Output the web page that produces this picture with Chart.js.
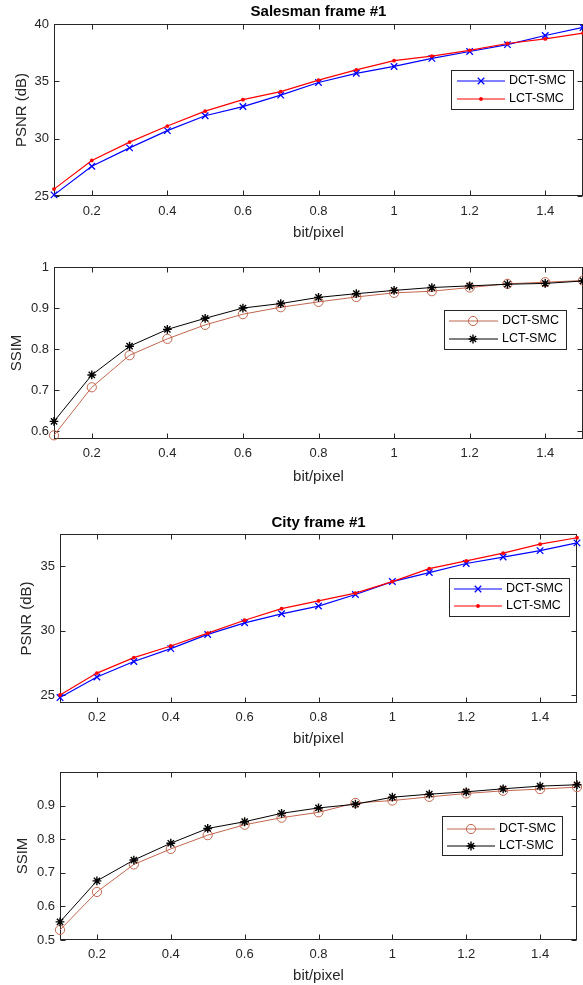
<!DOCTYPE html>
<html><head><meta charset="utf-8">
<script src="https://cdn.jsdelivr.net/npm/chart.js@4.4.0/dist/chart.umd.min.js"></script>
<style>
html,body{margin:0;padding:0;background:#fff;}
body{width:583px;height:985px;position:relative;overflow:hidden;}
canvas{position:absolute;left:0;display:block;}
</style></head><body>
<canvas id="c1" width="583" height="250" style="top:0px"></canvas>
<canvas id="c2" width="583" height="240" style="top:250px"></canvas>
<canvas id="c3" width="583" height="260" style="top:490px"></canvas>
<canvas id="c4" width="583" height="235" style="top:750px"></canvas>
<script>
// ---------- data ----------
const bitRate = [0.1,0.2,0.3,0.4,0.5,0.6,0.7,0.8,0.9,1.0,1.1,1.2,1.3,1.4,1.5];
const xTickValues = [0.2,0.4,0.6,0.8,1,1.2,1.4];
const seriesNames = ['DCT-SMC','LCT-SMC'];

const salesmanPsnrDct = [25.1,27.6,29.2,30.7,32.0,32.8,33.8,34.9,35.7,36.3,37.0,37.6,38.2,39.0,39.7];
const salesmanPsnrLct = [25.6,28.1,29.7,31.1,32.4,33.4,34.1,35.1,36.0,36.8,37.2,37.7,38.3,38.7,39.2];
const salesmanSsimDct = [0.590,0.707,0.785,0.825,0.859,0.885,0.902,0.915,0.927,0.937,0.941,0.950,0.959,0.963,0.967];
const salesmanSsimLct = [0.624,0.737,0.807,0.848,0.875,0.900,0.911,0.926,0.935,0.943,0.950,0.954,0.958,0.960,0.966];
const cityPsnrDct = [24.8,26.4,27.6,28.6,29.7,30.6,31.3,31.9,32.8,33.8,34.5,35.2,35.7,36.2,36.8];
const cityPsnrLct = [25.0,26.7,27.9,28.8,29.8,30.8,31.7,32.3,32.9,33.8,34.8,35.4,36.0,36.7,37.2];
const citySsimDct = [0.530,0.643,0.725,0.771,0.812,0.843,0.864,0.880,0.908,0.915,0.926,0.936,0.944,0.949,0.955];
const citySsimLct = [0.554,0.676,0.738,0.788,0.832,0.852,0.877,0.893,0.904,0.925,0.934,0.941,0.950,0.958,0.962];

const salesmanPsnrTicks = [25,30,35,40];
const salesmanSsimTicks = [0.6,0.7,0.8,0.9,1];
const cityPsnrTicks = [25,30,35];
const citySsimTicks = [0.5,0.6,0.7,0.8,0.9];

// ---------- styles ----------
const FONT = "'Liberation Sans', Arial, Helvetica, sans-serif";
const AX = '#262626';
const psnrStyles = [
  {borderColor:'#0000FF', borderWidth:1.2, pointStyle:'crossRot', pointRadius:4.6, pointBorderWidth:1.3, pointBorderColor:'#0000FF', pointBackgroundColor:'#0000FF'},
  {borderColor:'#FF0000', borderWidth:1.2, pointStyle:'circle', pointRadius:1.9, pointBorderWidth:0, pointBorderColor:'#FF0000', pointBackgroundColor:'#FF0000'}
];
const ssimStyles = [
  {borderColor:'#C0664E', borderWidth:1, pointStyle:'circle', pointRadius:4.6, pointBorderWidth:1, pointBorderColor:'#C0664E', pointBackgroundColor:'rgba(0,0,0,0)'},
  {borderColor:'#000000', borderWidth:1, pointStyle:'star', pointRadius:4.4, pointBorderWidth:1.4, pointBorderColor:'#000000', pointBackgroundColor:'#000000'}
];

// ---------- plugins ----------
const matlabAxes = {
  id:'matlabAxes',
  beforeDatasetsDraw(chart){
    const {ctx, chartArea:a, scales:{x,y}} = chart;
    const L=Math.round(a.left)+0.5, R=Math.round(a.right)-0.5, T=Math.round(a.top)+0.5, B=Math.round(a.bottom)-0.5;
    ctx.save();
    ctx.strokeStyle=AX; ctx.lineWidth=1;
    ctx.strokeRect(L,T,R-L,B-T);
    ctx.beginPath();
    const tl=5;
    x.ticks.forEach(t=>{
      const p=Math.round(x.getPixelForValue(t.value))+0.5;
      ctx.moveTo(p,B); ctx.lineTo(p,B-tl);
      ctx.moveTo(p,T); ctx.lineTo(p,T+tl);
    });
    y.ticks.forEach(t=>{
      const p=Math.round(y.getPixelForValue(t.value))+0.5;
      ctx.moveTo(L,p); ctx.lineTo(L+tl,p);
      ctx.moveTo(R,p); ctx.lineTo(R-tl,p);
    });
    ctx.stroke();
    ctx.restore();
  }
};

function drawMarker(ctx, ds, cx, cy){
  const opts={pointStyle:ds.pointStyle, radius:ds.pointRadius, borderWidth:ds.pointBorderWidth, rotation:0};
  ctx.strokeStyle=ds.pointBorderColor; ctx.fillStyle=ds.pointBackgroundColor; ctx.lineWidth=ds.pointBorderWidth;
  if (Chart.helpers && Chart.helpers.drawPoint){ Chart.helpers.drawPoint(ctx, opts, cx, cy); return; }
  ctx.beginPath(); ctx.arc(cx,cy,ds.pointRadius,0,Math.PI*2); ctx.fill(); if(ds.pointBorderWidth>0) ctx.stroke();
}

const matlabLegend = {
  id:'matlabLegend',
  afterDraw(chart, args, o){
    if(!o || !o.box) return;
    const ctx=chart.ctx, b=o.box;
    ctx.save();
    ctx.fillStyle='#fff'; ctx.fillRect(b.x,b.y,b.w,b.h);
    ctx.strokeStyle=AX; ctx.lineWidth=1; ctx.strokeRect(b.x+0.5,b.y+0.5,b.w-1,b.h-1);
    chart.data.datasets.forEach((ds,i)=>{
      const yy=o.rows[i];
      ctx.strokeStyle=ds.borderColor; ctx.lineWidth=ds.borderWidth;
      ctx.beginPath(); ctx.moveTo(o.lineX1,yy); ctx.lineTo(o.lineX2,yy); ctx.stroke();
      drawMarker(ctx, ds, o.markerX, yy);
      ctx.fillStyle='#000'; ctx.font='12.5px '+FONT; ctx.textAlign='left'; ctx.textBaseline='middle';
      ctx.fillText(ds.label, o.textX, yy);
    });
    ctx.restore();
  }
};

// ---------- builder ----------
function makeChart(id, c){
  const datasets = c.series.map((vals,i)=>Object.assign({
    label: seriesNames[i],
    data: bitRate.map((b,k)=>({x:b, y:vals[k]})),
    fill:false, tension:0, clip:false, order: i===0?1:0
  }, c.styles[i]));
  return new Chart(document.getElementById(id), {
    type:'line',
    data:{datasets},
    options:{
      responsive:false, animation:false, devicePixelRatio:1,
      events:[],
      layout:{autoPadding:false, padding:{top:c.padTop, right:c.padRight, left:0, bottom:0}},
      plugins:{
        legend:{display:false}, tooltip:{enabled:false},
        title: c.title ? {display:true, text:c.title, fullSize:false, color:'#000',
          font:{family:FONT, size:15, weight:'bold', lineHeight:1.2}, padding:{top:c.titlePadTop, bottom:c.titlePadBottom}} : {display:false},
        matlabLegend: c.legend
      },
      scales:{
        x:{type:'linear', min:0.1, max:1.5,
          grid:{display:false, drawTicks:false}, border:{display:false},
          afterBuildTicks:s=>{ s.ticks = xTickValues.map(v=>({value:v})); },
          afterFit:s=>{ s.height = c.xAxisHeight; s.paddingLeft = 0; s.paddingRight = 0; },
          ticks:{font:{family:FONT,size:13,lineHeight:1.2}, color:AX, padding:c.xTickPad, maxRotation:0, autoSkip:false, callback:v=>String(v)},
          title:{display:true, text:'bit/pixel', color:AX, font:{family:FONT,size:15,lineHeight:1.2}, padding:{top:0,bottom:c.xTitlePad}}
        },
        y:{type:'linear', min:c.yMin, max:c.yMax,
          grid:{display:false, drawTicks:false}, border:{display:false},
          afterBuildTicks:s=>{ s.ticks = c.yTicks.map(v=>({value:v})); },
          afterFit:s=>{ s.width = c.yAxisWidth; s.paddingTop = 0; s.paddingBottom = 0; },
          ticks:{font:{family:FONT,size:13,lineHeight:1.2}, color:AX, padding:5, autoSkip:false, callback:v=>String(v)},
          title:{display:true, text:c.yLabel, color:AX, font:{family:FONT,size:15,lineHeight:1.2}, padding:{top:c.yTitlePad,bottom:0}}
        }
      }
    },
    plugins:[matlabAxes, matlabLegend]
  });
}

makeChart('c1', {title:'Salesman frame #1', titlePadTop:3, titlePadBottom:3, padTop:0, padRight:0,
  yLabel:'PSNR (dB)', yMin:25, yMax:40, yTicks:salesmanPsnrTicks, series:[salesmanPsnrDct, salesmanPsnrLct], styles:psnrStyles,
  yAxisWidth:54, xAxisHeight:54, xTickPad:8, xTitlePad:8, yTitlePad:13,
  legend:{box:{x:451,y:70,w:123,h:40}, lineX1:457, lineX2:505, markerX:481, textX:509, rows:[81,99]}});

makeChart('c2', {title:null, padTop:17, padRight:0,
  yLabel:'SSIM', yMin:0.581, yMax:1, yTicks:salesmanSsimTicks, series:[salesmanSsimDct, salesmanSsimLct], styles:ssimStyles,
  yAxisWidth:54, xAxisHeight:51, xTickPad:7, xTitlePad:4, yTitlePad:8,
  legend:{box:{x:444,y:60,w:123,h:40}, lineX1:449, lineX2:498, markerX:473, textX:502, rows:[71,89]}});

makeChart('c3', {title:'City frame #1', titlePadTop:24, titlePadBottom:2, padTop:0, padRight:6,
  yLabel:'PSNR (dB)', yMin:24.38, yMax:37.49, yTicks:cityPsnrTicks, series:[cityPsnrDct, cityPsnrLct], styles:psnrStyles,
  yAxisWidth:60, xAxisHeight:47, xTickPad:7, xTitlePad:2, yTitlePad:18,
  legend:{box:{x:449,y:88,w:121,h:39}, lineX1:454, lineX2:502, markerX:478, textX:506, rows:[99,116]}});

makeChart('c4', {title:null, padTop:22, padRight:6,
  yLabel:'SSIM', yMin:0.5, yMax:1, yTicks:citySsimTicks, series:[citySsimDct, citySsimLct], styles:ssimStyles,
  yAxisWidth:60, xAxisHeight:45, xTickPad:7, xTitlePad:0, yTitlePad:14,
  legend:{box:{x:442,y:66,w:121,h:40}, lineX1:447, lineX2:495, markerX:471, textX:499, rows:[79,96]}});
</script>
</body></html>
